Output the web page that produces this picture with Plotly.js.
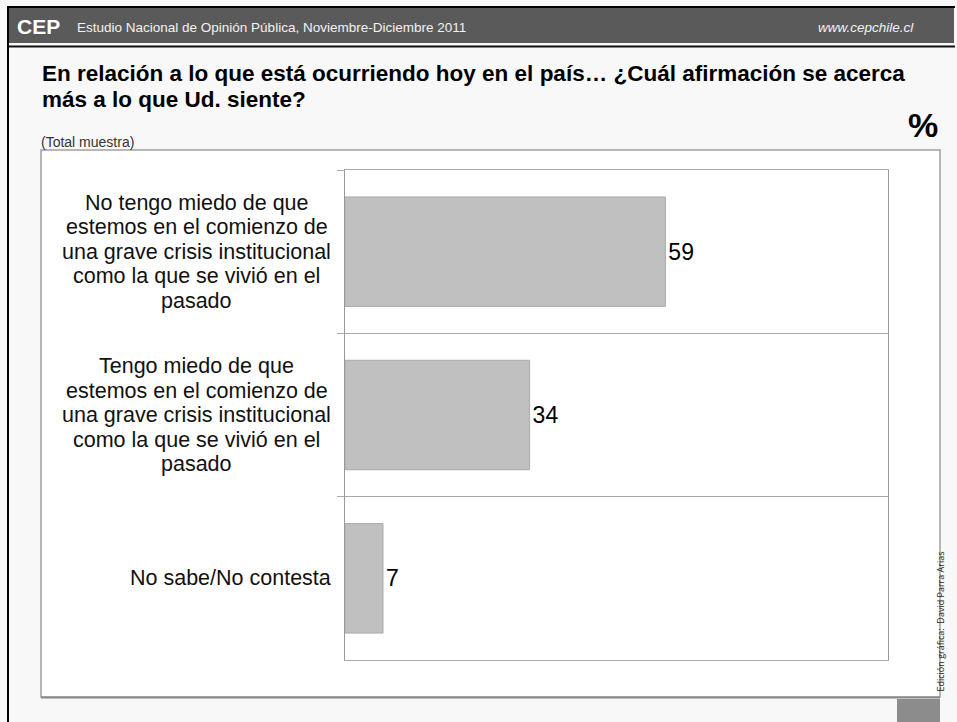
<!DOCTYPE html>
<html>
<head>
<meta charset="utf-8">
<script src="https://cdn.plot.ly/plotly-3.0.1.min.js"></script>
<style>
  html, body { margin: 0; padding: 0; background: #f8f8f8; }
  #grafico { width: 957px; height: 722px; }
</style>
</head>
<body>
<div id="grafico"></div>
<script>
var categorias = [
  "No tengo miedo de que<br>estemos en el comienzo de<br>una grave crisis institucional<br>como la que se vivió en el<br>pasado",
  "Tengo miedo de que<br>estemos en el comienzo de<br>una grave crisis institucional<br>como la que se vivió en el<br>pasado",
  "No sabe/No contesta"
];
var porcentajes = [59, 34, 7];
var titulo = [
  "En relación a lo que está ocurriendo hoy en el país… ¿Cuál afirmación se acerca",
  "más a lo que Ud. siente?"
];

// pixeles de la pagina -> coordenadas paper
var W = 957, H = 722;
var mL = 345, mR = 69, mT = 170, mB = 62;
var pw = W - mL - mR, ph = H - mT - mB;
function px(x) { return (x - mL) / pw; }
function py(y) { return (H - mB - y) / ph; }

function rect(x0, y0, x1, y1, fill, line) {
  return {
    type: 'rect', xref: 'paper', yref: 'paper', layer: 'below',
    x0: px(x0), x1: px(x1), y0: py(y1), y1: py(y0),
    fillcolor: fill,
    line: line || {width: 0}
  };
}

var fuente = 'Liberation Sans, Arial';
var tamEtiq = 21.5, interlinea = 24.5;

// medir el ancho de cada bloque de texto para alinearlo a la derecha
var ctx = document.createElement('canvas').getContext('2d');
ctx.font = tamEtiq + 'px "Liberation Sans"';

var trace1 = {
  type: 'bar',
  orientation: 'h',
  y: categorias,
  x: porcentajes,
  width: 0.67,
  marker: {color: '#c0c0c0', line: {color: '#a9a9a9', width: 1}},
  text: porcentajes.map(String),
  textposition: 'outside',
  cliponaxis: false,
  textfont: {family: fuente, size: 23, color: '#000'},
  hoverinfo: 'none'
};

var etiquetas = [];
categorias.forEach(function (c) {
  var lineas = c.split('<br>');
  var ancho = Math.max.apply(null, lineas.map(function (l) { return ctx.measureText(l).width; }));
  var centro = 331 - ancho / 2;
  lineas.forEach(function (l, i) {
    etiquetas.push({
      xref: 'paper', yref: 'y', x: px(centro), y: c,
      xanchor: 'center', yanchor: 'middle',
      yshift: ((lineas.length - 1) / 2 - i) * interlinea,
      text: l, showarrow: false,
      font: {family: fuente, size: tamEtiq, color: '#111'}
    });
  });
});

var textos = [
  {x: px(15), y: py(26), text: '<b>CEP</b>', xanchor: 'left', font: {size: 21, color: '#fff'}},
  {x: px(75), y: py(27), text: 'Estudio Nacional de Opinión Pública, Noviembre-Diciembre 2011', xanchor: 'left', font: {size: 13.5, color: '#f2f2f2'}},
  {x: px(916), y: py(27), text: '<i>www.cepchile.cl</i>', xanchor: 'right', font: {size: 13.5, color: '#f2f2f2'}},
  {x: px(40), y: py(73), text: '<b>' + titulo[0] + '</b>', xanchor: 'left', font: {size: 22.5, color: '#000'}},
  {x: px(40), y: py(99), text: '<b>' + titulo[1] + '</b>', xanchor: 'left', font: {size: 22.5, color: '#000'}},
  {x: px(39), y: py(142), text: '(Total muestra)', xanchor: 'left', font: {size: 14, color: '#333'}},
  {x: px(940), y: py(125), text: '<b>%</b>', xanchor: 'right', font: {size: 34, color: '#000'}},
  {x: px(948), y: py(622), text: 'Edición gráfica:  David Parra Arias', textangle: -90, font: {family: 'Open Sans', size: 9, color: '#222'}}
].map(function (a) {
  a.xref = 'paper'; a.yref = 'paper'; a.showarrow = false; a.yanchor = 'middle';
  a.font.family = a.font.family || fuente;
  return a;
});

var layout = {
  width: W, height: H,
  margin: {l: mL, r: mR, t: mT, b: mB, pad: 0},
  paper_bgcolor: '#f8f8f8',
  plot_bgcolor: '#ffffff',
  showlegend: false,
  xaxis: {
    range: [0, 100], showticklabels: false, showgrid: false, zeroline: false,
    showline: true, mirror: true, linecolor: '#aaaaaa', linewidth: 1, fixedrange: true
  },
  yaxis: {
    type: 'category', autorange: 'reversed', showticklabels: false,
    tickson: 'boundaries', ticks: 'outside', ticklen: 7, tickcolor: '#aaaaaa',
    showgrid: true, gridcolor: '#aaaaaa', gridwidth: 1,
    showline: true, mirror: true, linecolor: '#999999', linewidth: 1, fixedrange: true
  },
  shapes: [
    rect(7, 6, 955, 8, '#000'),
    rect(8, 8, 954, 43, '#5a5a5a'),
    rect(8, 45.5, 955, 47.5, '#111'),
    rect(7, 6, 9, 722, '#000'),
    rect(41, 150, 940, 697, '#ffffff', {color: '#a0a0a0', width: 1.5}),
    rect(41, 696.5, 940, 698.5, '#8a8a8a'),
    rect(897, 699, 940, 722, '#8c8c8c')
  ],
  annotations: textos.concat(etiquetas)
};

Plotly.newPlot('grafico', [trace1], layout, {displayModeBar: false, staticPlot: true});
</script>
</body>
</html>
